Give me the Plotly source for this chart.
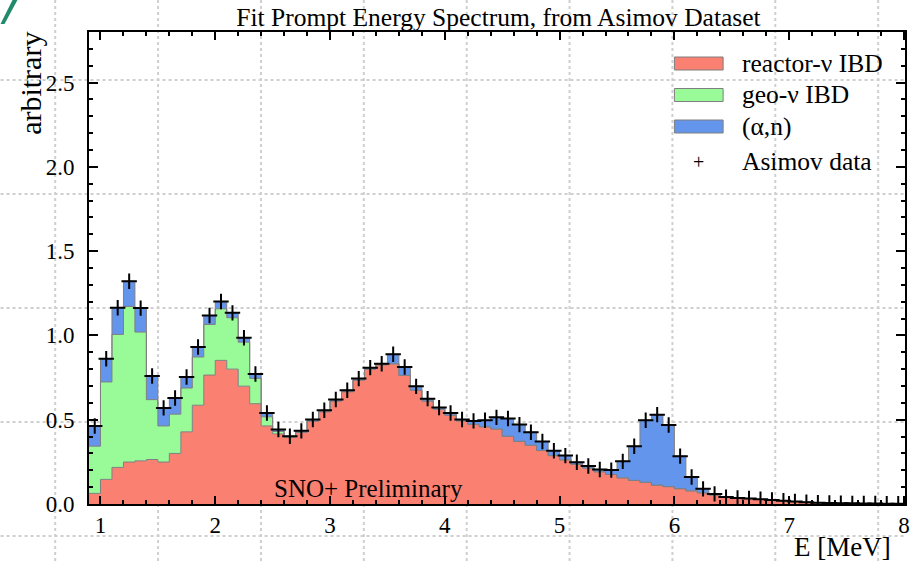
import numpy as np
import plotly.graph_objects as go

title_text = "Fit Prompt Energy Spectrum, from Asimov Dataset"
series_names = ["reactor-\u03bd IBD", "geo-\u03bd IBD", "(\u03b1,n)", "Asimov data"]
x_title = "E [MeV]"
y_title = "arbitrary"
watermark = "SNO+ Preliminary"

bin_low, bin_high, bin_width = 0.9, 8.0, 0.1

reactor = [0.063, 0.146, 0.217, 0.249, 0.256, 0.264, 0.249, 0.300, 0.428, 0.586,
           0.765, 0.852, 0.800, 0.699, 0.595, 0.463, 0.416, 0.395, 0.425, 0.492,
           0.547, 0.611, 0.666, 0.735, 0.800, 0.826, 0.832, 0.763, 0.675, 0.611,
           0.562, 0.527, 0.493, 0.473, 0.458, 0.445, 0.402, 0.372, 0.349, 0.317,
           0.287, 0.262, 0.235, 0.213, 0.191, 0.175, 0.155, 0.140, 0.129, 0.112,
           0.103, 0.091, 0.078, 0.066, 0.053, 0.040, 0.035, 0.032, 0.027, 0.023,
           0.019, 0.014, 0.010, 0.007, 0.005, 0.004, 0.003, 0.003, 0.002, 0.002,
           0.001]
geo = [0.280, 0.578, 0.789, 0.923, 0.764, 0.355, 0.214, 0.233, 0.260, 0.286,
       0.300, 0.306, 0.305, 0.261, 0.150, 0.054, 0.014, 0.003, 0, 0,
       0, 0, 0, 0, 0, 0, 0, 0, 0, 0,
       0, 0, 0, 0, 0, 0, 0, 0, 0, 0,
       0, 0, 0, 0, 0, 0, 0, 0, 0, 0,
       0, 0, 0, 0, 0, 0, 0, 0, 0, 0,
       0, 0, 0, 0, 0, 0, 0, 0, 0, 0,
       0]
alpha_n = [0.120, 0.138, 0.158, 0.149, 0.142, 0.140, 0.107, 0.096, 0.065, 0.059,
           0.053, 0.043, 0.029, 0.026, 0.026, 0.023, 0.012, 0.004, 0.009, 0.009,
           0.009, 0.009, 0.009, 0.009, 0.009, 0.006, 0.056, 0.050, 0.023, 0.014,
           0.010, 0.013, 0.008, 0.020, 0.039, 0.069, 0.105, 0.099, 0.077, 0.054,
           0.029, 0.025, 0.013, 0.012, 0.014, 0.026, 0.098, 0.203, 0.368, 0.418,
           0.366, 0.193, 0.082, 0.024, 0.007, 0.001, 0.001, 0.001, 0.001, 0.001,
           0.001, 0.001, 0.001, 0.001, 0.001, 0.001, 0.001, 0.000, 0.001, 0.000,
           0.001]
asimov = [0.463, 0.862, 1.164, 1.321, 1.162, 0.759, 0.570, 0.629, 0.753, 0.931,
          1.118, 1.201, 1.134, 0.986, 0.771, 0.540, 0.442, 0.402, 0.434, 0.501,
          0.556, 0.620, 0.675, 0.744, 0.809, 0.832, 0.888, 0.813, 0.698, 0.625,
          0.572, 0.540, 0.501, 0.493, 0.497, 0.514, 0.507, 0.471, 0.426, 0.371,
          0.316, 0.287, 0.248, 0.225, 0.205, 0.201, 0.253, 0.343, 0.497, 0.530,
          0.469, 0.284, 0.160, 0.090, 0.060, 0.041, 0.036, 0.033, 0.028, 0.024,
          0.020, 0.015, 0.011, 0.008, 0.006, 0.005, 0.004, 0.003, 0.003, 0.002,
          0.002]

colors = ["#FA8072", "#98FB98", "#6495ED"]
edge_color = "#7f7f7f"
FONT = "Liberation Serif"

n_bins = len(reactor)
edges = np.round(bin_low + bin_width * np.arange(n_bins + 1), 3)
centers = np.round(edges[:-1] + bin_width / 2, 3)

fig = go.Figure()
for vals, name, col in zip([reactor, geo, alpha_n], series_names[:3], colors):
    fig.add_trace(go.Scatter(
        x=list(edges), y=list(vals) + [vals[-1]],
        mode="lines", line=dict(shape="hv", color=edge_color, width=1),
        fillcolor=col, stackgroup="stack", name=name,
        showlegend=False, hoverinfo="skip"))

fig.add_trace(go.Scatter(
    x=centers, y=asimov, mode="markers", name=series_names[3],
    marker=dict(symbol="cross-thin", size=11, line=dict(color="black", width=2)),
    showlegend=False))

W, H = 910, 564
L, R, T, B = 89, 0, 32, 60
pw, ph = W - L - R, H - T - B


def px(xp):
    return (xp - L) / pw


def py(yp):
    return (H - B - yp) / ph


shapes = []
grid_style = dict(color="#cfcfcf", width=2, dash="dot")
for gx in [55, 158.5, 262, 365.5, 469, 572.5, 676, 779.5, 883]:
    shapes.append(dict(type="line", xref="paper", yref="paper", x0=px(gx), x1=px(gx),
                       y0=py(0), y1=py(H), line=grid_style, layer="below"))
for gy in [80, 194, 308, 422, 536]:
    shapes.append(dict(type="line", xref="paper", yref="paper", x0=px(0), x1=px(W),
                       y0=py(gy), y1=py(gy), line=grid_style, layer="below"))

# corner decoration
shapes.append(dict(type="path", xref="paper", yref="paper",
                   path="M {} {} L {} {} L {} {} L {} {} Z".format(
                       px(0), py(24), px(4), py(24), px(17), py(0), px(12), py(0)),
                   fillcolor="#1f8a6c", line=dict(width=0)))

annotations = []
# legend
leg_rows = [63.5, 95, 126.5]
for yc, col in zip(leg_rows, colors):
    shapes.append(dict(type="rect", xref="paper", yref="paper",
                       x0=px(678), x1=px(727), y0=py(yc - 6.5), y1=py(yc + 6.5),
                       fillcolor=col, line=dict(color=edge_color, width=1)))
for yc, name in zip(leg_rows + [161], series_names):
    annotations.append(dict(text=name, xref="paper", yref="paper", x=px(744), y=py(yc),
                            xanchor="left", yanchor="middle", showarrow=False,
                            font=dict(family=FONT, size=25.5, color="black")))
annotations.append(dict(text="+", xref="paper", yref="paper", x=px(702), y=py(162),
                        xanchor="center", yanchor="middle", showarrow=False,
                        font=dict(family=FONT, size=20, color="black")))

annotations.append(dict(text=y_title, xref="paper", yref="paper", x=px(30), y=py(30),
                        xanchor="center", yanchor="top", textangle=-90, showarrow=False,
                        font=dict(family=FONT, size=30, color="black")))
annotations.append(dict(text=x_title, xref="paper", yref="paper", x=px(897), y=py(547),
                        xanchor="right", yanchor="middle", showarrow=False, borderpad=0,
                        font=dict(family=FONT, size=27, color="black")))
annotations.append(dict(text=watermark, xref="paper", yref="paper", x=px(370), y=py(488),
                        xanchor="center", yanchor="middle", showarrow=False,
                        font=dict(family=FONT, size=25, color="black")))

axis_common = dict(showline=True, linecolor="black", linewidth=2, mirror="ticks",
                   ticks="inside", tickcolor="black", tickwidth=1.5, showgrid=False,
                   zeroline=False, tickfont=dict(family=FONT, size=23, color="black"))

fig.update_layout(
    width=W, height=H, margin=dict(l=L, r=R, t=T, b=B, pad=0),
    paper_bgcolor="white", plot_bgcolor="rgba(0,0,0,0)",
    title=dict(text=title_text, x=498.5 / W, xanchor="center", y=1 - 17 / H,
               yanchor="middle", font=dict(family=FONT, size=25.5, color="black")),
    xaxis=dict(range=[bin_low, bin_high + 0.009], tick0=0, dtick=1, ticklen=8,
               minor=dict(dtick=0.2, ticks="inside", ticklen=4, tickcolor="black",
                          tickwidth=1.5),
               ticklabelstandoff=-1, ticklabeloverflow="allow", **axis_common),
    yaxis=dict(range=[0, 2.8], tick0=0, dtick=0.5, tickformat=".1f", ticklen=9,
               minor=dict(dtick=0.1, ticks="inside", ticklen=4, tickcolor="black",
                          tickwidth=1.5),
               ticklabelstandoff=8, **axis_common),
    shapes=shapes, annotations=annotations, showlegend=False,
)

fig.write_html("out.html")
